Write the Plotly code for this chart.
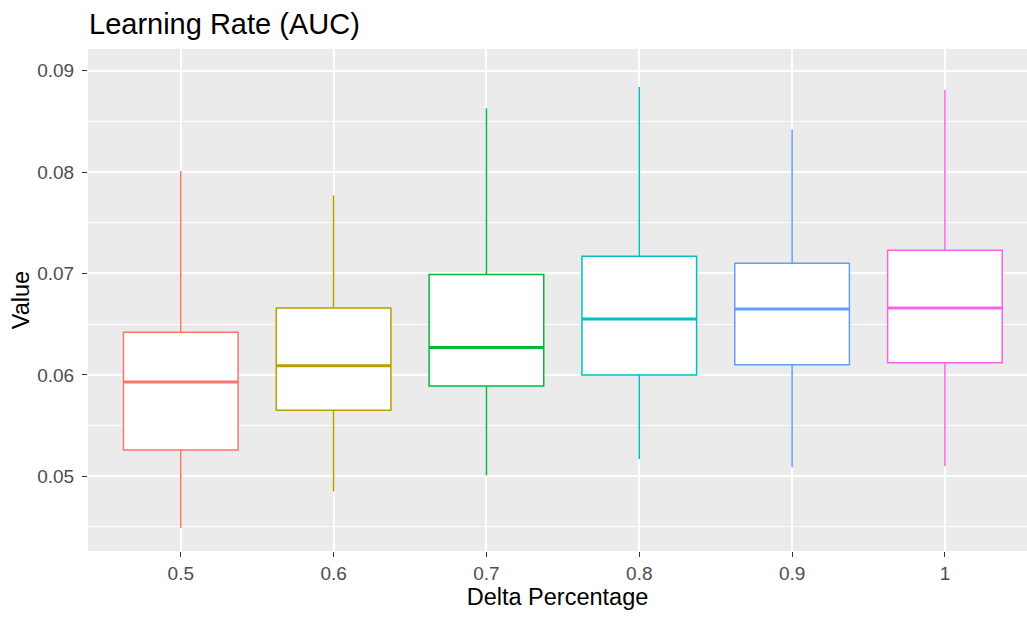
import plotly.graph_objects as go

categories = ["0.5", "0.6", "0.7", "0.8", "0.9", "1"]
lower_whisker = [0.0449, 0.0485, 0.0501, 0.0517, 0.0509, 0.0510]
q1_values = [0.0526, 0.0565, 0.0589, 0.0600, 0.0610, 0.0612]
median_values = [0.0593, 0.0609, 0.0627, 0.0655, 0.0665, 0.0666]
q3_values = [0.0642, 0.0666, 0.0699, 0.0717, 0.0710, 0.0723]
upper_whisker = [0.0801, 0.0777, 0.0863, 0.0884, 0.0842, 0.0881]
colors = ["#F8766D", "#B79F00", "#00BA38", "#00BFC4", "#619CFF", "#F564E3"]

y_ticks = [0.05, 0.06, 0.07, 0.08, 0.09]
y_minor = [0.045, 0.055, 0.065, 0.075, 0.085]
BOX_W = 0.75

fig = go.Figure()
for i, cat in enumerate(categories):
    fig.add_trace(go.Box(
        x=[cat], q1=[q1_values[i]], median=[median_values[i]], q3=[q3_values[i]],
        lowerfence=[lower_whisker[i]], upperfence=[upper_whisker[i]],
        fillcolor="white", line=dict(color=colors[i], width=1.5),
        width=BOX_W, whiskerwidth=0, boxpoints=False, showlegend=False,
        hoverinfo="skip",
    ))
    fig.add_shape(type="line", xref="x", yref="y",
                  x0=i - BOX_W / 2, x1=i + BOX_W / 2,
                  y0=median_values[i], y1=median_values[i],
                  line=dict(color=colors[i], width=3))

font = "Liberation Sans, Arial, sans-serif"
fig.update_layout(
    width=1027, height=617,
    margin=dict(l=88, r=0, t=49, b=66, autoexpand=False),
    paper_bgcolor="white", plot_bgcolor="#EBEBEB",
    font=dict(family=font),
    title=dict(text="Learning Rate (AUC)", x=89 / 1027, xref="container", xanchor="left",
               y=1 - 24 / 617, yref="container", yanchor="middle",
               font=dict(size=29, color="black", family=font)),
    xaxis=dict(
        type="category", categoryorder="array", categoryarray=categories,
        range=[-0.607, 5.537],
        showgrid=True, gridcolor="white", gridwidth=1.7,
        ticks="outside", ticklen=5, tickwidth=1.2, tickcolor="#333333",
        tickfont=dict(size=19, color="#4D4D4D"),
        title=dict(text="Delta Percentage", font=dict(size=23.5, color="black"), standoff=4),
        zeroline=False, showline=False, automargin=False,
    ),
    yaxis=dict(
        range=[0.04263, 0.09214],
        tickvals=y_ticks, ticktext=[f"{v:.2f}" for v in y_ticks],
        showgrid=True, gridcolor="white", gridwidth=1.7,
        minor=dict(tickvals=y_minor, showgrid=True, gridcolor="white", gridwidth=0.9),
        ticks="outside", ticklen=5, tickwidth=1.2, tickcolor="#333333",
        tickfont=dict(size=19, color="#4D4D4D"), ticklabelstandoff=4,
        title=dict(text="Value", font=dict(size=23.5, color="black"), standoff=0),
        zeroline=False, showline=False, automargin=False,
    ),
)

fig.write_html("out.html")
